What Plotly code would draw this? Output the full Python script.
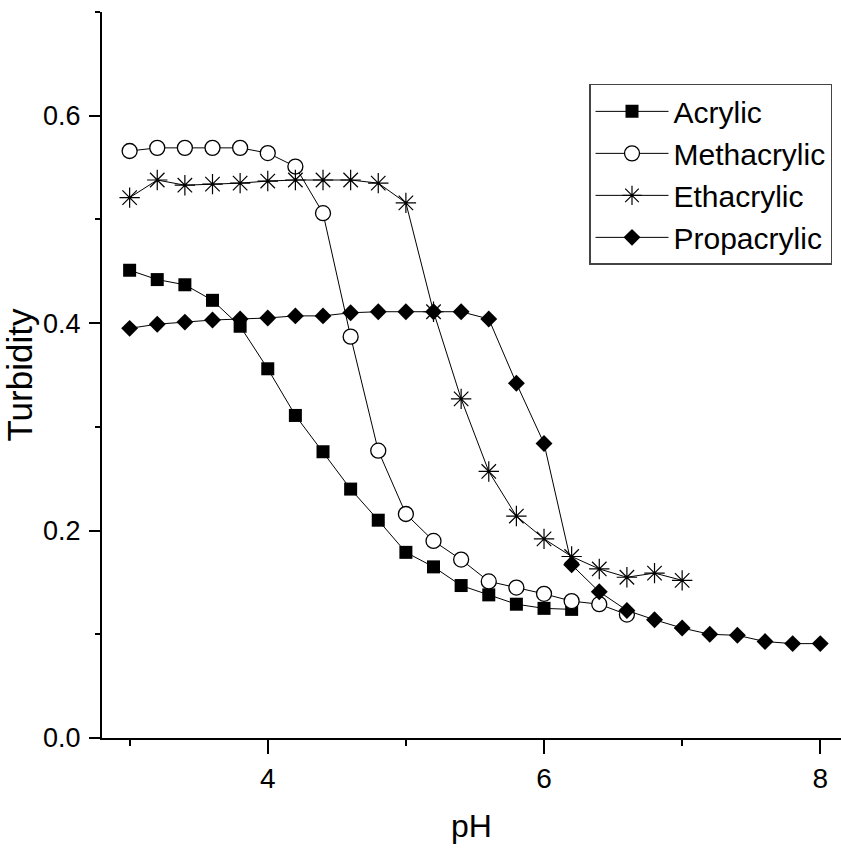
import plotly.graph_objects as go

ph_acrylic = [3.0, 3.2, 3.4, 3.6, 3.8, 4.0, 4.2, 4.4, 4.6, 4.8, 5.0, 5.2, 5.4, 5.6, 5.8, 6.0, 6.2]
acrylic = [0.451, 0.442, 0.437, 0.422, 0.397, 0.356, 0.311, 0.276, 0.240, 0.210, 0.179, 0.165, 0.147, 0.138, 0.129, 0.125, 0.124]

ph_meth = [3.0, 3.2, 3.4, 3.6, 3.8, 4.0, 4.2, 4.4, 4.6, 4.8, 5.0, 5.2, 5.4, 5.6, 5.8, 6.0, 6.2, 6.4, 6.6]
methacrylic = [0.566, 0.569, 0.569, 0.569, 0.569, 0.564, 0.551, 0.506, 0.387, 0.277, 0.216, 0.190, 0.172, 0.151, 0.145, 0.139, 0.132, 0.129, 0.119]

ph_eth = [3.0, 3.2, 3.4, 3.6, 3.8, 4.0, 4.2, 4.4, 4.6, 4.8, 5.0, 5.2, 5.4, 5.6, 5.8, 6.0, 6.2, 6.4, 6.6, 6.8, 7.0]
ethacrylic = [0.521, 0.538, 0.533, 0.534, 0.535, 0.537, 0.538, 0.538, 0.538, 0.535, 0.516, 0.411, 0.327, 0.257, 0.214, 0.192, 0.175, 0.163, 0.155, 0.159, 0.152]

ph_prop = [3.0, 3.2, 3.4, 3.6, 3.8, 4.0, 4.2, 4.4, 4.6, 4.8, 5.0, 5.2, 5.4, 5.6, 5.8, 6.0, 6.2, 6.4, 6.6, 6.8, 7.0, 7.2, 7.4, 7.6, 7.8, 8.0]
propacrylic = [0.395, 0.399, 0.401, 0.403, 0.404, 0.405, 0.407, 0.407, 0.410, 0.411, 0.411, 0.411, 0.411, 0.404, 0.342, 0.284, 0.167, 0.141, 0.123, 0.114, 0.106, 0.100, 0.099, 0.093, 0.091, 0.091]

FONT = "Liberation Sans, Arial, sans-serif"

fig = go.Figure()
fig.add_trace(go.Scatter(x=ph_acrylic, y=acrylic, name="Acrylic", mode="lines+markers",
                         line=dict(color="black", width=1),
                         marker=dict(symbol="square", size=13, color="black")))
fig.add_trace(go.Scatter(x=ph_meth, y=methacrylic, name="Methacrylic", mode="lines+markers",
                         line=dict(color="black", width=1),
                         marker=dict(symbol="circle", size=15, color="white",
                                     line=dict(color="black", width=1.3))))
fig.add_trace(go.Scatter(x=ph_eth, y=ethacrylic, name="Ethacrylic", mode="lines+markers",
                         line=dict(color="black", width=1),
                         marker=dict(symbol="asterisk-open", size=17, color="black",
                                     line=dict(color="black", width=1.2))))
fig.add_trace(go.Scatter(x=ph_prop, y=propacrylic, name="Propacrylic", mode="lines+markers",
                         line=dict(color="black", width=1),
                         marker=dict(symbol="diamond", size=13, color="black")))

fig.update_layout(
    width=841, height=854,
    margin=dict(l=102, r=0, t=12, b=116),
    paper_bgcolor="white", plot_bgcolor="white",
    font=dict(family=FONT, size=28, color="black"),
    showlegend=True,
    legend=dict(x=0.659, y=0.901, xanchor="left", yanchor="top",
                bordercolor="#444", borderwidth=1.5, bgcolor="white",
                font=dict(family=FONT, size=30, color="black"),
                itemwidth=73, tracegroupgap=0),
    xaxis=dict(range=[2.8, 8.15], showline=True, linecolor="black", linewidth=2,
               showgrid=False, zeroline=False, ticks="outside", ticklen=14, tickwidth=2,
               tickcolor="black", tick0=0, dtick=2,
               minor=dict(dtick=1, ticklen=6, tickwidth=2, tickcolor="black", ticks="outside"),
               title=dict(text="pH", font=dict(family=FONT, size=32), standoff=22),
               tickfont=dict(family=FONT, size=28)),
    yaxis=dict(range=[0, 0.7], showline=True, linecolor="black", linewidth=2,
               showgrid=False, zeroline=False, ticks="outside", ticklen=11, tickwidth=2,
               tickcolor="black", tick0=0, dtick=0.2, tickformat=".1f",
               ticklabelstandoff=3,
               minor=dict(dtick=0.1, ticklen=5, tickwidth=2, tickcolor="black", ticks="outside"),
               title=dict(text="Turbidity", font=dict(family=FONT, size=35), standoff=5),
               tickfont=dict(family=FONT, size=27)),
)

fig.write_html("out.html")
